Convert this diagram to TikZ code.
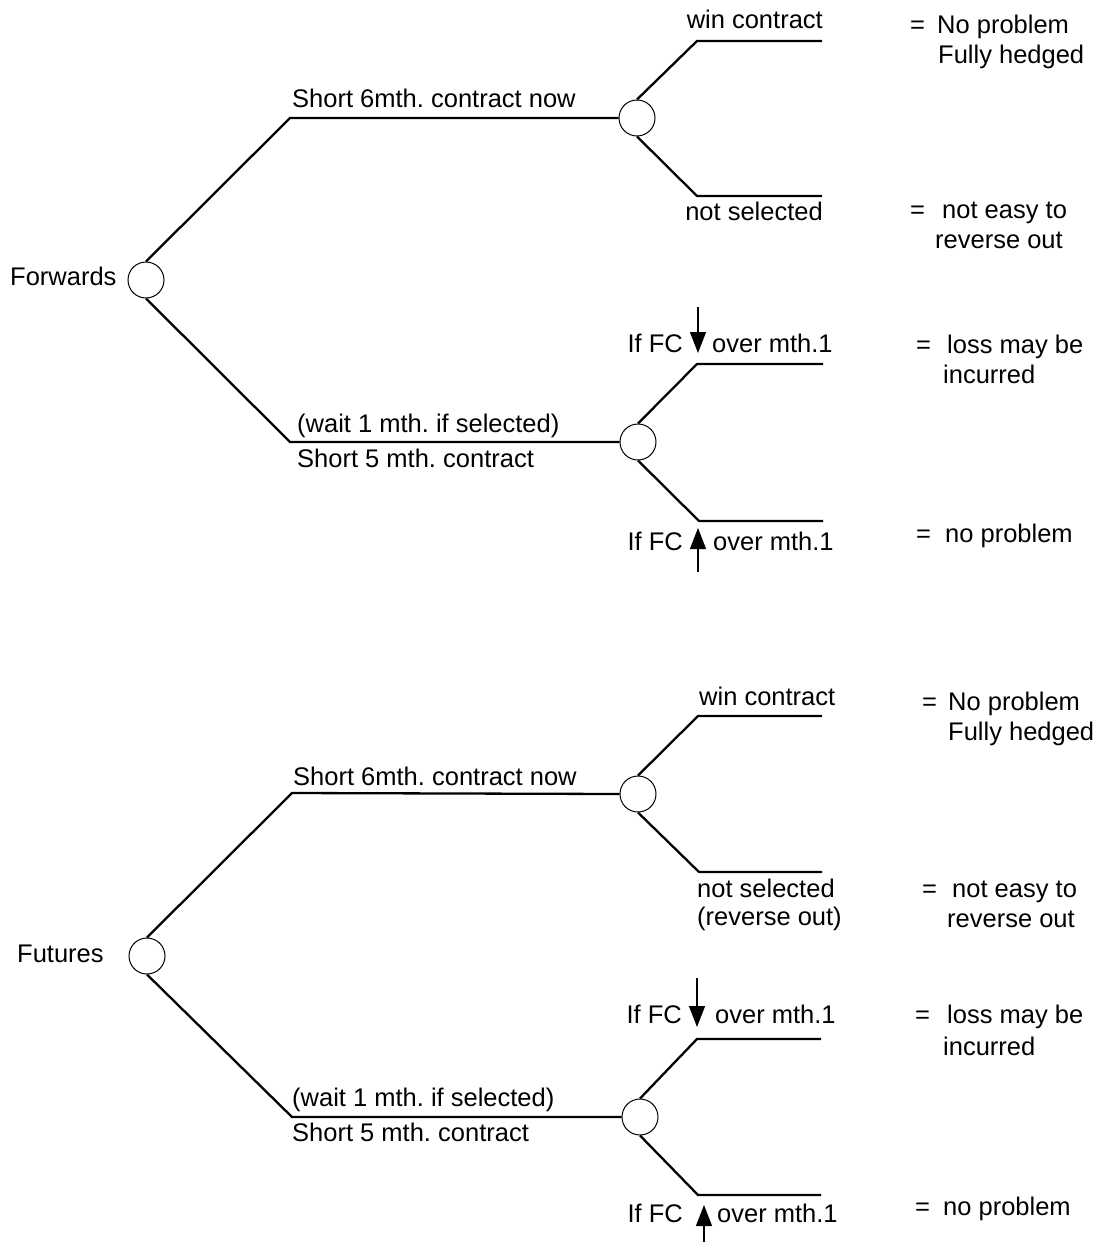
\documentclass[tikz,border=0pt]{standalone}
\usepackage{fontspec}
\setmainfont{Liberation Sans}
\usepackage{tikz}
\usetikzlibrary{arrows.meta, positioning}
\frenchspacing

\tikzset{
  chance/.style={circle, draw, fill=white, line width=1pt, minimum size=36pt, inner sep=0pt},
  branch/.style={line width=2.3pt},
  lbl/.style={inner sep=0pt, font=\fontsize{25.5}{30}\selectfont},
  fcarrow/.style={line width=1.2pt, -{Triangle[width=16pt,length=21pt]}}
}

\begin{document}
\begin{tikzpicture}[x=1pt,y=-1pt]
% \draw[help lines, dashed, red] (0,0) grid[step=100] (1112,1242);
\useasboundingbox (0,0) rectangle (1112,1242);
% ---- Forwards ----
\node[lbl, anchor=base west] (fwd) at (10,285) {Forwards};
\node[chance] (f0) at (146,280) {};
\node[chance] (f1) at (637,118) {};
\node[chance] (f2) at (638,442) {};
\coordinate (f0u) at (290,118);
\coordinate (f0d) at (290,442);
\coordinate (f1u) at (697,41);
\coordinate (f1ue) at (822,41);
\coordinate (f1d) at (697,196);
\coordinate (f1de) at (822,196);
\coordinate (f2u) at (697,364);
\coordinate (f2ue) at (823,364);
\coordinate (f2d) at (699,521);
\coordinate (f2de) at (823,521);
\draw[branch](f0.north)--(f0u)--(f1.west);
\draw[branch](f0.south)--(f0d)--(f2.west);
\draw[branch](f1.north)--(f1u)--(f1ue);
\draw[branch](f1.south)--(f1d)--(f1de);
\draw[branch](f2.north)--(f2u)--(f2ue);
\draw[branch](f2.south)--(f2d)--(f2de);
\node[lbl, anchor=base west] (f6m) at (292,107) {Short 6mth. contract now};
\node[lbl, anchor=base west] (fwait) at (297,432) {(wait 1 mth. if selected)};
\node[lbl, anchor=base west] (f5m) at (297,467) {Short 5 mth. contract};
\node[lbl, anchor=base east] (fwin) at (823,28) {win contract};
\node[lbl, anchor=base east] (fnot) at (823,220) {not selected};
\node[lbl, anchor=base east] (fifd) at (683,352) {If FC};
\node[lbl, anchor=base west] (fovd) at (712,352) {over mth.1};
\node[lbl, anchor=base east] (fifu) at (683,550) {If FC};
\node[lbl, anchor=base west] (fovu) at (713,550) {over mth.1};
\coordinate (fad0) at (698,307);
\coordinate (fad1) at (698,353);
\coordinate (fau0) at (698,572);
\coordinate (fau1) at (698,528);
\draw[fcarrow](fad0)--(fad1);
\draw[fcarrow](fau0)--(fau1);
\node[lbl, anchor=base west] (fe1) at (910,33) {=};
\node[lbl, anchor=base west] (fr1) at (937,33) {No problem};
\node[lbl, anchor=base west] (fr1b) at (938,63) {Fully hedged};
\node[lbl, anchor=base west] (fe2) at (910,218) {=};
\node[lbl, anchor=base west] (fr2) at (942,218) {not easy to};
\node[lbl, anchor=base west] (fr2b) at (935,248) {reverse out};
\node[lbl, anchor=base west] (fe3) at (916,353) {=};
\node[lbl, anchor=base west] (fr3) at (947,353) {loss may be};
\node[lbl, anchor=base west] (fr3b) at (943,383) {incurred};
\node[lbl, anchor=base west] (fe4) at (916,542) {=};
\node[lbl, anchor=base west] (fr4) at (945,542) {no problem};
% ---- Futures ----
\node[lbl, anchor=base west] (fut) at (17,962) {Futures};
\node[chance] (u0) at (147,956) {};
\node[chance] (u1) at (638,794) {};
\node[chance] (u2) at (640,1117) {};
\coordinate (u0u) at (292,793);
\coordinate (u0d) at (292,1117);
\coordinate (u1u) at (698,716);
\coordinate (u1ue) at (822,716);
\coordinate (u1d) at (699,872);
\coordinate (u1de) at (822,872);
\coordinate (u2u) at (697,1039);
\coordinate (u2ue) at (821,1039);
\coordinate (u2d) at (698,1195);
\coordinate (u2de) at (821,1195);
\draw[branch](u0.north)--(u0u)--(u1.west);
\draw[branch](u0.south)--(u0d)--(u2.west);
\draw[branch](u1.north)--(u1u)--(u1ue);
\draw[branch](u1.south)--(u1d)--(u1de);
\draw[branch](u2.north)--(u2u)--(u2ue);
\draw[branch](u2.south)--(u2d)--(u2de);
\node[lbl, anchor=base west] (u6m) at (293,785) {Short 6mth. contract now};
\node[lbl, anchor=base west] (uwait) at (292,1106) {(wait 1 mth. if selected)};
\node[lbl, anchor=base west] (u5m) at (292,1141) {Short 5 mth. contract};
\node[lbl, anchor=base west] (uwin) at (699,705) {win contract};
\node[lbl, anchor=base west] (unot) at (697,897) {not selected};
\node[lbl, anchor=base west] (urev) at (697,925) {(reverse out)};
\node[lbl, anchor=base east] (uifd) at (682,1023) {If FC};
\node[lbl, anchor=base west] (uovd) at (715,1023) {over mth.1};
\node[lbl, anchor=base east] (uifu) at (683,1222) {If FC};
\node[lbl, anchor=base west] (uovu) at (717,1222) {over mth.1};
\coordinate (uad0) at (697,978);
\coordinate (uad1) at (697,1027);
\coordinate (uau0) at (704,1242);
\coordinate (uau1) at (704,1205);
\draw[fcarrow](uad0)--(uad1);
\draw[fcarrow](uau0)--(uau1);
\node[lbl, anchor=base west] (ue1) at (922,710) {=};
\node[lbl, anchor=base west] (ur1) at (948,710) {No problem};
\node[lbl, anchor=base west] (ur1b) at (948,740) {Fully hedged};
\node[lbl, anchor=base west] (ue2) at (922,897) {=};
\node[lbl, anchor=base west] (ur2) at (952,897) {not easy to};
\node[lbl, anchor=base west] (ur2b) at (947,927) {reverse out};
\node[lbl, anchor=base west] (ue3) at (915,1023) {=};
\node[lbl, anchor=base west] (ur3) at (947,1023) {loss may be};
\node[lbl, anchor=base west] (ur3b) at (943,1055) {incurred};
\node[lbl, anchor=base west] (ue4) at (915,1215) {=};
\node[lbl, anchor=base west] (ur4) at (943,1215) {no problem};
\end{tikzpicture}
\end{document}
